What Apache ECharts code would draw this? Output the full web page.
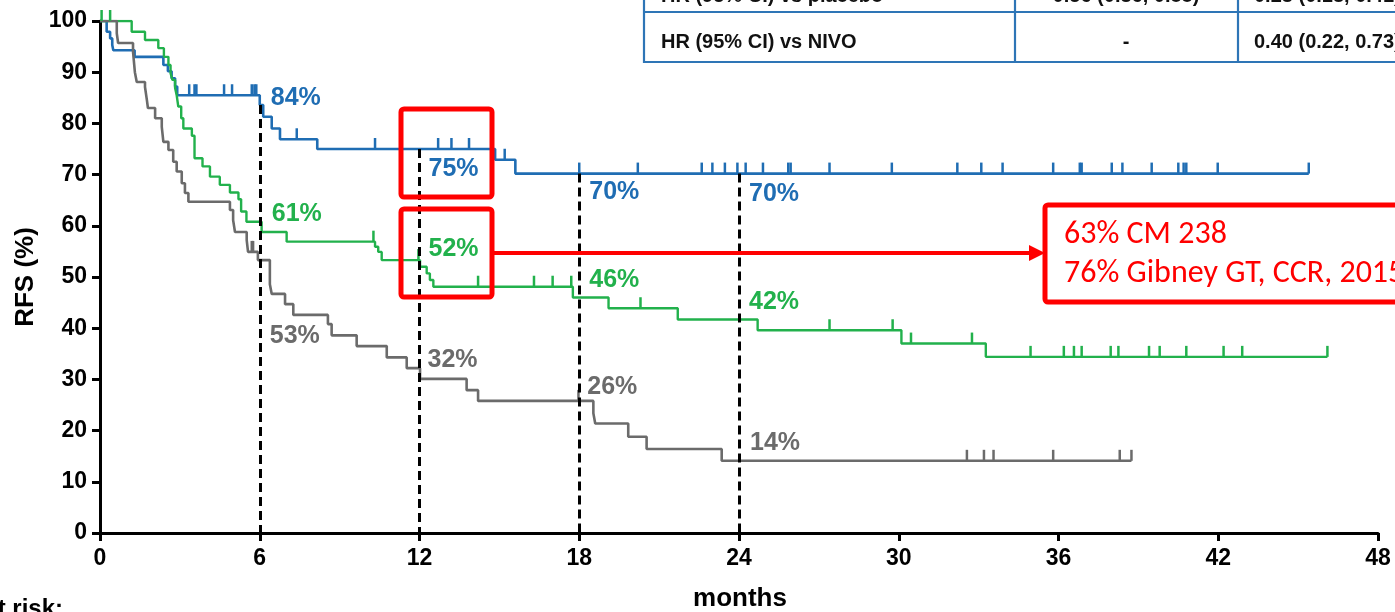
<!DOCTYPE html>
<html>
<head>
<meta charset="utf-8">
<script src="https://cdn.jsdelivr.net/npm/echarts@6/dist/echarts.min.js"></script>
<style>
  html, body { margin: 0; padding: 0; background: #fff; }
  #chart { width: 1395px; height: 612px; }
</style>
</head>
<body>
<div id="chart"></div>
<script>
// Kaplan-Meier event steps: [month, RFS %]
const nivoIpiSteps = [
  [0, 100], [0.25, 97.9], [0.38, 96.6], [0.46, 95.3], [0.5, 94.3], [1.3, 93.0],
  [2.38, 91.4], [2.55, 90.2], [2.69, 88.8], [2.82, 87.2], [2.9, 85.5],
  [6.0, 83.6], [6.13, 81.3], [6.45, 79.0], [6.76, 76.9], [8.16, 75.0],
  [14.84, 72.9], [15.6, 70.2]
];
const nivoIpiCensored = [
  3.35, 3.55, 3.62, 4.66, 4.96, 5.7, 5.8, 5.87, 7.39, 10.33, 12.7, 13.2, 13.86,
  15.2, 18.0, 20.2, 22.6, 23.0, 23.47, 23.94, 24.25, 24.9, 25.85, 25.94, 27.4,
  29.74, 32.2, 33.1, 33.9, 35.8, 36.8, 36.87, 38.0, 38.4, 39.5, 40.5, 40.7,
  40.8, 41.98, 45.4
];

const nivoSteps = [
  [0, 100], [1.19, 97.9], [1.69, 96.3], [2.19, 94.7], [2.4, 93.0], [2.57, 91.4],
  [2.65, 89.8], [2.72, 88.5], [2.82, 86.9], [2.88, 85.5], [2.94, 83.3], [3.05, 81.0],
  [3.13, 79.0], [3.45, 77.6], [3.55, 73.2], [3.85, 71.6], [4.13, 69.6], [4.5, 68.0],
  [4.88, 66.5], [5.2, 65.2], [5.3, 62.8], [5.5, 60.8], [6.07, 58.8], [7.01, 56.9],
  [10.33, 55.9], [10.45, 54.9], [10.58, 53.3], [12.02, 52.0], [12.27, 50.7],
  [12.39, 49.4], [12.52, 48.1], [17.76, 46.0], [19.1, 43.9], [21.7, 41.7],
  [24.7, 39.6], [30.1, 37.0], [33.27, 34.4]
];
const nivoCensored = [
  0.06, 0.38, 10.27, 11.96, 14.2, 16.3, 17.0, 17.7, 20.3, 27.4, 29.77, 30.46,
  32.75, 34.95, 36.2, 36.58, 36.87, 37.96, 38.25, 39.4, 39.8, 40.8, 42.2, 42.9, 46.1
];

const placeboSteps = [
  [0, 100], [0.63, 97.6], [0.68, 95.7], [1.24, 94.0], [1.31, 90.0], [1.38, 88.1],
  [1.69, 87.1], [1.76, 84.6], [1.8, 83.0], [2.07, 81.0], [2.32, 79.3], [2.38, 76.4],
  [2.57, 74.8], [2.75, 72.5], [2.88, 70.6], [3.07, 68.3], [3.19, 66.4], [3.32, 64.7],
  [4.88, 63.1], [5.0, 61.1], [5.07, 58.8], [5.51, 57.2], [5.56, 54.9], [5.93, 53.3],
  [6.38, 48.6], [6.45, 46.7], [6.95, 44.7], [7.26, 42.6], [8.56, 40.8], [8.7, 38.6],
  [9.64, 36.5], [10.77, 34.3], [11.52, 32.2], [12.02, 30.1], [13.77, 27.9],
  [14.2, 25.8], [18.53, 23.4], [18.6, 21.4], [19.84, 18.8], [20.53, 16.4], [23.35, 14.1]
];
const placeboCensored = [5.7, 5.75, 17.97, 32.56, 33.2, 33.56, 35.8, 38.3, 38.74];

// Landmark estimates printed next to the dashed guides
const landmarkMonths = [6, 12, 18, 24];
const nivoIpiLandmarks = [84, 75, 70, 70];
const nivoLandmarks = [61, 52, 46, 42];
const placeboLandmarks = [53, 32, 26, 14];

// Hazard-ratio table (top right)
const hrRowLabels = ['HR (95% CI) vs placebo', 'HR (95% CI) vs NIVO'];
const hrNivo = ['0.56 (0.36, 0.88)', '-'];
const hrNivoIpi = ['0.23 (0.13, 0.41)', '0.40 (0.22, 0.73)'];

// Comparison note in the red call-out
const comparisonNotes = ['63% CM 238', '76% Gibney GT, CCR, 2015'];

const BLUE = '#1f6db3';
const GREEN = '#22b14c';
const GRAY = '#6b6b6b';
const FONT = '"Liberation Sans", Arial, sans-serif';

function survivalAt(steps, t) {
  let s = steps[0][1];
  for (const [m, v] of steps) {
    if (m <= t) s = v; else break;
  }
  return s;
}

function curveSeries(steps, censored, color, width) {
  const end = censored[censored.length - 1];
  const data = steps.concat([[end, steps[steps.length - 1][1]]]);
  return [
    {
      type: 'line', data, step: 'end', symbol: 'none', silent: true,
      lineStyle: { color, width, opacity: 1 }, z: 3
    },
    {
      type: 'scatter', silent: true, z: 3,
      data: censored.map(t => [t, survivalAt(steps, t)]),
      symbol: 'rect', symbolSize: [2.5, 11], symbolOffset: [0, -5.5],
      itemStyle: { color, opacity: 1 }
    }
  ];
}

function landmarkLabels(rates, color, offsets) {
  return {
    type: 'scatter', silent: true, z: 6, symbolSize: 0,
    itemStyle: { opacity: 1 },
    data: landmarkMonths.map((m, i) => ({
      value: [m, rates[i]],
      label: { offset: offsets[i] }
    })),
    label: {
      show: true, position: 'right', distance: 0, opacity: 1,
      formatter: p => p.value[1] + '%',
      color, fontSize: 25, fontWeight: 'bold', fontFamily: FONT
    }
  };
}

const chart = echarts.init(document.getElementById('chart'), null, { renderer: 'canvas' });

const blueSeries = curveSeries(nivoIpiSteps, nivoIpiCensored, BLUE, 2.6);
blueSeries[0].markLine = {
  silent: true, symbol: 'none', animation: false,
  label: { show: false },
  lineStyle: { color: '#000', width: 3, type: [9, 5], opacity: 1 },
  data: landmarkMonths.map(m => [
    { coord: [m, survivalAt(nivoIpiSteps, m)] },
    { coord: [m, 0] }
  ])
};

const tableColor = '#2e75b6';
const tableLines = [
  [644, -5, 644, 63], [1015, -5, 1015, 63], [1238, -5, 1238, 63],
  [644, 12, 1395, 12], [644, 62, 1395, 62]
].map(([x1, y1, x2, y2]) => ({
  type: 'line', shape: { x1, y1, x2, y2 },
  style: { stroke: tableColor, lineWidth: 2.2 }
}));

const tableRowY = [-4, 42];
const tableText = [];
hrRowLabels.forEach((txt, i) => {
  tableText.push({ type: 'text', x: 661, y: tableRowY[i],
    style: { text: txt, font: 'bold 20px ' + FONT, fill: '#111', textVerticalAlign: 'middle' } });
  tableText.push({ type: 'text', x: 1126, y: tableRowY[i],
    style: { text: hrNivo[i], font: 'bold 20px ' + FONT, fill: '#111', textAlign: 'center', textVerticalAlign: 'middle' } });
  tableText.push({ type: 'text', x: 1254, y: tableRowY[i],
    style: { text: hrNivoIpi[i], font: 'bold 20px ' + FONT, fill: '#111', textVerticalAlign: 'middle' } });
});

const RED = '#ff0000';
const calloutFont = '32px Carlito, Lato, "Liberation Sans", sans-serif';

const option = {
  animation: false,
  backgroundColor: '#fff',
  grid: { left: 100, right: 17, top: 21, bottom: 79, containLabel: false },
  xAxis: {
    type: 'value', min: 0, max: 48, interval: 6,
    axisLine: { show: true, lineStyle: { color: '#000', width: 3 } },
    axisTick: { show: true, length: 8, lineStyle: { color: '#000', width: 3 } },
    axisLabel: { margin: 14, fontSize: 23, fontWeight: 'bold', color: '#000', fontFamily: FONT },
    splitLine: { show: false }
  },
  yAxis: {
    type: 'value', min: 0, max: 100, interval: 10,
    axisLine: { show: true, lineStyle: { color: '#000', width: 3 } },
    axisTick: { show: true, length: 8, lineStyle: { color: '#000', width: 3 } },
    axisLabel: { margin: 13, fontSize: 23, fontWeight: 'bold', color: '#000', fontFamily: FONT },
    splitLine: { show: false }
  },
  series: [
    ...blueSeries,
    ...curveSeries(nivoSteps, nivoCensored, GREEN, 2.4),
    ...curveSeries(placeboSteps, placeboCensored, GRAY, 2.6),
    landmarkLabels(nivoIpiLandmarks, BLUE, [[11, -5], [9, 20], [10, 18], [10, 20]]),
    landmarkLabels(nivoLandmarks, GREEN, [[12, -7], [9, -18], [10, -17], [10, -16]]),
    landmarkLabels(placeboLandmarks, GRAY, [[10, 74], [8, -9], [8, -13], [11, -18]])
  ],
  graphic: [
    // axis titles
    { type: 'text', x: 26, y: 277, rotation: Math.PI / 2,
      style: { text: 'RFS (%)', font: 'bold 26px ' + FONT, fill: '#000', textAlign: 'center', textVerticalAlign: 'middle' } },
    { type: 'text', x: 740, y: 599,
      style: { text: 'months', font: 'bold 26px ' + FONT, fill: '#000', textAlign: 'center', textVerticalAlign: 'middle' } },
    { type: 'text', x: 63, y: 597,
      style: { text: 'At risk:', font: 'bold 24px ' + FONT, fill: '#000', textAlign: 'right', textVerticalAlign: 'top' } },
    // HR table
    ...tableLines,
    ...tableText,
    // red highlight boxes around the 12-month estimates
    { type: 'rect', shape: { x: 401, y: 109, width: 91, height: 88, r: 3 },
      style: { fill: 'none', stroke: RED, lineWidth: 5 }, z: 10 },
    { type: 'rect', shape: { x: 401, y: 209, width: 91, height: 88, r: 3 },
      style: { fill: 'none', stroke: RED, lineWidth: 5 }, z: 10 },
    // arrow to the call-out
    { type: 'line', shape: { x1: 492, y1: 253, x2: 1030, y2: 253 },
      style: { stroke: RED, lineWidth: 4 }, z: 10 },
    { type: 'polygon', shape: { points: [[1029, 245], [1045, 253], [1029, 261]] },
      style: { fill: RED }, z: 10 },
    { type: 'rect', shape: { x: 1045, y: 205, width: 380, height: 97, r: 3 },
      style: { fill: '#fff', stroke: RED, lineWidth: 5 }, z: 10 },
    { type: 'text', x: 1064, y: 235, z: 11,
      style: { text: comparisonNotes[0], font: calloutFont, fill: RED, textVerticalAlign: 'middle' } },
    { type: 'text', x: 1064, y: 274, z: 11,
      style: { text: comparisonNotes[1], font: calloutFont, fill: RED, textVerticalAlign: 'middle' } }
  ]
};

chart.setOption(option);
</script>
</body>
</html>
